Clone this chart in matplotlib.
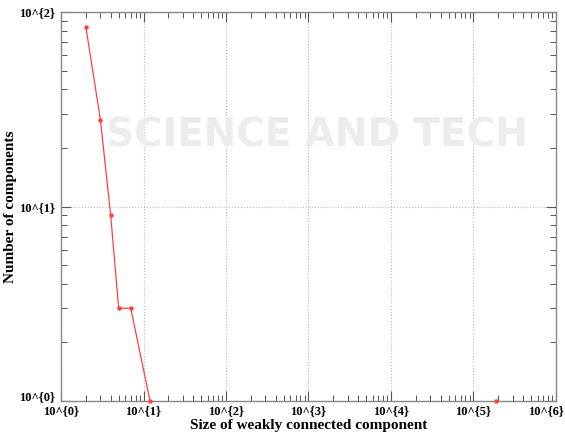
import numpy as np
import matplotlib
matplotlib.use("Agg")
import matplotlib.pyplot as plt
import matplotlib.ticker as mtick
import matplotlib.transforms as mtrans

# component size vs count
comp_size = [2, 3, 4, 5, 7, 12]
comp_count = [84, 28, 9, 3, 3, 1]
giant_size = [190000]
giant_count = [1]

x_ticks = [1e0, 1e1, 1e2, 1e3, 1e4, 1e5, 1e6]
x_labels = ["10^{0}", "10^{1}", "10^{2}", "10^{3}", "10^{4}", "10^{5}", "10^{6}"]
y_ticks = [1e0, 1e1, 1e2]
y_labels = ["10^{0}", "10^{1}", "10^{2}"]

plt.rcParams['font.family'] = ['Liberation Serif', 'DejaVu Serif']

fig = plt.figure(figsize=(5.65, 4.37), dpi=100)
ax = fig.add_axes([0.108, 0.0824, 0.876, 0.8901])

# faint watermark behind the axes
fig.text(0.56, 0.69, "SCIENCE AND TECH", fontsize=28, color="#ececec", ha="center", va="center",
         family="DejaVu Sans", fontweight="bold", zorder=0)
ax.set_facecolor("none")

ax.plot(comp_size, comp_count, color="#ff4040", lw=0.9, marker="o", ms=2.2, clip_on=False, zorder=3)
ax.plot(giant_size, giant_count, color="#ff4040", lw=0.9, marker="o", ms=2.2, clip_on=False, zorder=3)

ax.set_xscale("log")
ax.set_yscale("log")
ax.set_xlim(1, 1e6)
ax.set_ylim(1, 100)

ax.set_xticks(x_ticks)
ax.set_xticklabels(x_labels, fontsize=9, fontweight="bold")
ax.set_yticks(y_ticks)
ax.set_yticklabels(y_labels, fontsize=9, fontweight="bold")
ax.xaxis.set_minor_locator(mtick.LogLocator(base=10, subs=np.arange(2, 10), numticks=20))
ax.yaxis.set_minor_locator(mtick.LogLocator(base=10, subs=np.arange(2, 10), numticks=20))
ax.xaxis.set_minor_formatter(mtick.NullFormatter())
ax.yaxis.set_minor_formatter(mtick.NullFormatter())

ax.tick_params(which="both", direction="in", top=True, right=True, color="#555555")
ax.tick_params(which="major", length=7, width=0.8)
ax.tick_params(axis="x", which="major", pad=3)
ax.tick_params(axis="y", which="major", pad=4)
ax.tick_params(which="minor", length=4, width=0.7)
for s in ax.spines.values():
    s.set_color("#888888")
    s.set_linewidth(1.0)

# last x label pulled inside the figure edge
last = ax.get_xticklabels()[-1]
last.set_horizontalalignment("right")
last.set_transform(last.get_transform() + mtrans.ScaledTranslation(0.08, 0, fig.dpi_scale_trans))
# lowest y label nudged up so it clears the x labels
low = ax.get_yticklabels()[0]
low.set_transform(low.get_transform() + mtrans.ScaledTranslation(0, 0.05, fig.dpi_scale_trans))

ax.grid(True, which="major", ls=":", color="#bbbbbb", lw=0.8)

ax.set_xlabel("Size of weakly connected component", fontsize=11, fontweight="bold", labelpad=1)
ax.set_ylabel("Number of components", fontsize=11, fontweight="bold", labelpad=2)

fig.savefig("out.png", dpi=100)
